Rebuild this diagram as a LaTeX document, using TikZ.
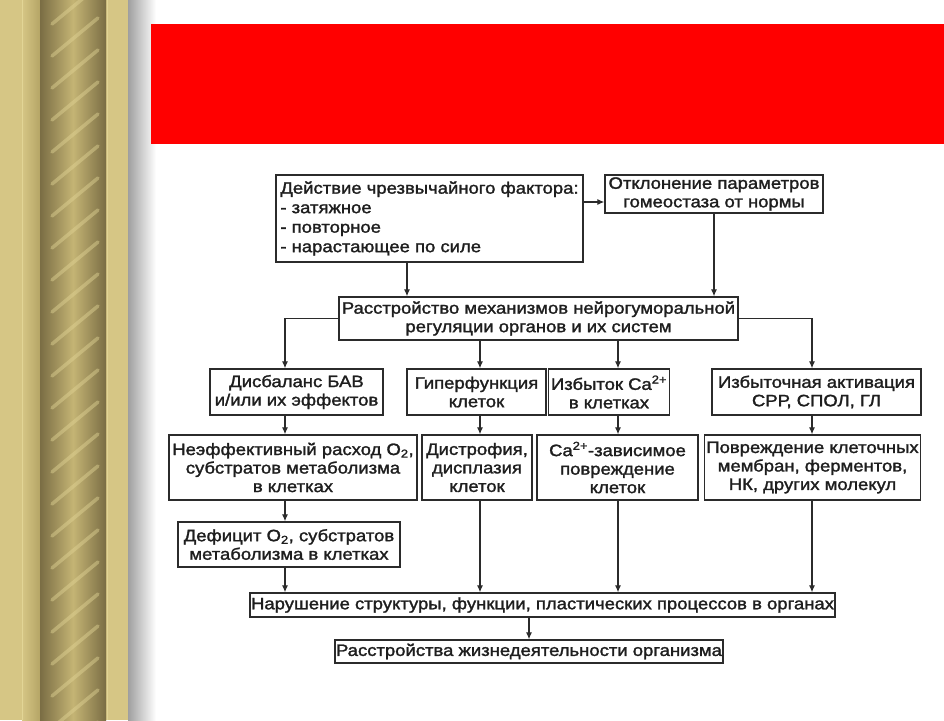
\documentclass[tikz,border=0pt]{standalone}
\usepackage{fontspec}
\setmainfont{Liberation Sans}[FakeStretch=1.12,FakeBold=1.6]
\usetikzlibrary{
  positioning,
  arrows.meta,
  calc,
}
\definecolor{border}{HTML}{2B2B2B}
\definecolor{textCol}{HTML}{1E1E1E}
\definecolor{arrowCol}{HTML}{2B2B2B}
\definecolor{bannerRed}{HTML}{FF0000}
\definecolor{goldLight}{HTML}{D6C685}
\definecolor{goldMid}{HTML}{B5A566}
\definecolor{ropeDark}{HTML}{7A6D44}
\definecolor{ropeLight}{HTML}{C4B474}
\definecolor{stripeCol}{HTML}{E2D596}
\tikzset{
  schemebox/.style={
    rectangle, draw=border, fill=white, line width=1.3pt,
    align=center, text=textCol, inner sep=2pt,
    font=\fontsize{16.5}{18.5}\selectfont,
  },
  listbox/.style={
    schemebox, align=left, font=\fontsize{16.5}{19.5}\selectfont,
  },
  arrow/.style={-{Latex[length=7pt,width=6pt]}, arrowCol, line width=1.2pt},
  stripe/.style={stripeCol, line width=3.5pt, opacity=0.45, line cap=round},
}

\begin{document}
\begin{tikzpicture}[x=1pt,y=-1pt]
  \useasboundingbox (0,0) rectangle (944,720);
  \fill[white] (0,0) rectangle (944,720);

  % Border
  \fill[goldLight] (0,0) rectangle (128,720);
  \shade[left color=goldLight, right color=goldMid] (22,0) rectangle (40,720);
  \shade[left color=ropeDark, right color=ropeDark, middle color=ropeLight] (40,0) rectangle (106,720);
  \begin{scope}
    \clip (40,0) rectangle (106,720);
    \foreach \k in {0,...,24} {
      \draw[stripe] (52,24+32*\k) -- (98,-14+32*\k);
    }
  \end{scope}
  \draw[stripeCol, line width=0.8pt] (22,0) -- (22,720);
  \draw[stripeCol, line width=0.8pt] (107,0) -- (107,720);
  \shade[left color=gray!75, right color=white] (128,0) rectangle (156,720);

  % Banner
  \fill[bannerRed] (151,24) rectangle (944,144);

  % Columns
  \coordinate (kA) at (407,0);
  \coordinate (k1) at (285,0);
  \coordinate (k2) at (480,0);
  \coordinate (k3) at (618,0);
  \coordinate (k4) at (812,0);

  % Boxes
  \node[listbox, minimum width=307pt, minimum height=87pt] (factor) at (429.5,218.5) {Действие чрезвычайного фактора:\\- затяжное\\- повторное\\- нарастающее по силе};
  \node[schemebox, minimum width=218pt, minimum height=38pt] (shift) at (714,194) {Отклонение параметров\\гомеостаза от нормы};
  \node[schemebox, minimum width=399pt, minimum height=43pt] (regul) at (538.5,318.5) {Расстройство механизмов нейрогуморальной\\регуляции органов и их систем};

  \node[schemebox, minimum width=173pt, minimum height=46pt] (bav) at (296.5,392) {Дисбаланс БАВ\\и/или их эффектов};
  \node[schemebox, minimum width=139pt, minimum height=46pt] (hyper) at (476.5,392) {Гиперфункция\\клеток};
  \node[schemebox, minimum width=121pt, minimum height=46pt] (calc) at (609,392) {Избыток Ca\textsuperscript{2+}\\в клетках};
  \node[schemebox, minimum width=209pt, minimum height=46pt] (activ) at (816.5,392) {Избыточная активация\\СРР, СПОЛ, ГЛ};

  \node[schemebox, minimum width=248pt, minimum height=65pt] (waste) at (293,467.5) {Неэффективный расход O\textsubscript{2},\\субстратов метаболизма\\в клетках};
  \node[schemebox, minimum width=110pt, minimum height=65pt] (dystr) at (477,467.5) {Дистрофия,\\дисплазия\\клеток};
  \node[schemebox, minimum width=161pt, minimum height=65pt] (cadam) at (617.5,467.5) {Ca\textsuperscript{2+}-зависимое\\повреждение\\клеток};
  \node[schemebox, minimum width=215pt, minimum height=65pt] (membr) at (812.5,467.5) {Повреждение клеточных\\мембран, ферментов,\\НК, других молекул};

  \node[schemebox, minimum width=222pt, minimum height=45pt] (defic) at (289,544.5) {Дефицит O\textsubscript{2}, субстратов\\метаболизма в клетках};
  \node[schemebox, minimum width=585pt, minimum height=24pt, inner sep=1pt] (organ) at (542.5,605) {Нарушение структуры, функции, пластических процессов в органах};
  \node[schemebox, minimum width=388pt, minimum height=23pt, inner sep=1pt] (life) at (529,651.5) {Расстройства жизнедеятельности организма};

  % Arrows
  \draw[arrow] ([yshift=-8pt]factor.east |- shift.west) -- ([yshift=-8pt]shift.west);
  \draw[arrow] (kA |- factor.south) -- (kA |- regul.north);
  \draw[arrow] (shift.south) -- (shift.south |- regul.north);

  \draw[arrow] (regul.west) -| (k1 |- bav.north);
  \draw[arrow] (k2 |- regul.south) -- (k2 |- hyper.north);
  \draw[arrow] (k3 |- regul.south) -- (k3 |- calc.north);
  \draw[arrow] (regul.east) -| (k4 |- activ.north);

  \draw[arrow] (k1 |- bav.south) -- (k1 |- waste.north);
  \draw[arrow] (k2 |- hyper.south) -- (k2 |- dystr.north);
  \draw[arrow] (k3 |- calc.south) -- (k3 |- cadam.north);
  \draw[arrow] (k4 |- activ.south) -- (k4 |- membr.north);

  \draw[arrow] (k1 |- waste.south) -- (k1 |- defic.north);
  \draw[arrow] (k1 |- defic.south) -- (k1 |- organ.north);
  \draw[arrow] (k2 |- dystr.south) -- (k2 |- organ.north);
  \draw[arrow] (k3 |- cadam.south) -- (k3 |- organ.north);
  \draw[arrow] (k4 |- membr.south) -- (k4 |- organ.north);

  \draw[arrow] (life.north |- organ.south) -- (life.north);

\end{tikzpicture}
\end{document}
